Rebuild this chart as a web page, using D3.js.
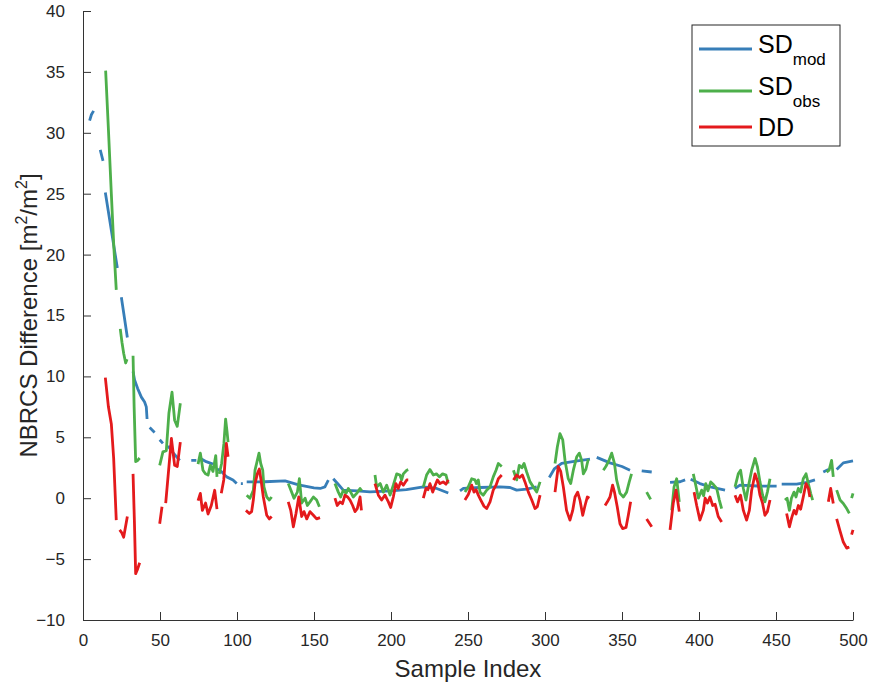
<!DOCTYPE html>
<html lang="en">
<head>
    <meta charset="UTF-8">
    <title>NBRCS Difference</title>
    <script src="https://d3js.org/d3.v7.min.js"></script>
    <style>
        body { margin: 0; background: #fff; }
        svg { display: block; font-family: "Liberation Sans", Arial, Helvetica, sans-serif; }
        .axis path, .axis line { stroke: #333; }
        .axis text { fill: #262626; font-size: 17px; }
    </style>
</head>
<body>
    <svg width="870" height="687"></svg>
    <script>
        // series as [sample index, value] pairs, null = gap (NaN)
        const sdMod = [
            [4.3, 31.0], [5.5, 31.5], [6.9, 31.8], null,
            [11.2, 28.6], [13, 27.7], null,
            [14.5, 25.1], [18.4, 22.0], [22.3, 18.9], null,
            [24.9, 16.5], [26.8, 14.9], [28.8, 13.2], null,
            [32.5, 10.4], [33.5, 9.7], [35.5, 9.0], [37.9, 8.3], [40, 7.9], [41.1, 7.5], [41.6, 6.5], null,
            [43.3, 5.8], [46.5, 5.4], null,
            [49.8, 4.8], [51.9, 4.5], null,
            [55.2, 4.3], [58, 3.8], [62.8, 3.1], null,
            [70.3, 3.1], [73.6, 3.1], null,
            [75.8, 3.3], [80, 3.0], [84.4, 2.8], null,
            [87, 2.4], [89.8, 2.2], [93.3, 1.75], [97.4, 1.5], [99.8, 1.2], null,
            [102.5, 1.2], [103.8, 1.2], null,
            [106.3, 1.34], [118, 1.35], [131.2, 1.42], [140, 1.1], [150, 0.85], [154, 0.8], [157.1, 0.93], [159.3, 1.48], null,
            [162.5, 1.6], [166, 1.1], [169, 0.66], [178, 0.6], [186.4, 0.52], [200, 0.6], [210, 0.7], [221, 0.93], [229.7, 0.8], [237.2, 0.43], null,
            [244.8, 0.6], [247, 0.8], [257.8, 0.88], [270.8, 0.93], [277.3, 0.88], [281.6, 0.66], [288, 0.75], [294.6, 0.93], null,
            [302.8, 1.7], [306, 2.4], [310.8, 2.85], [320, 3.05], [329.2, 3.2], null,
            [333.6, 3.35], [342.2, 2.9], [350, 2.6], [355.2, 2.3], null,
            [362.8, 2.25], [369.3, 2.15], null,
            [381.2, 1.3], [387.7, 1.35], [391, 1.5], null,
            [394.6, 1.56], [400.6, 1.2], [408, 0.9], [416.9, 0.66], null,
            [423.4, 0.8], [426.6, 1.07], [438, 1.0], [450.4, 0.99], null,
            [453.7, 1.15], [463.4, 1.15], [470, 1.3], [475.3, 1.5], null,
            [480.7, 2.15], [484, 2.35], null,
            [489.4, 2.35], [493.7, 2.9], [500, 3.06]
        ];

        const sdObs = [
            [14.7, 35.1], [16.5, 30.3], [18.4, 25.0], [20, 20.7], [21.6, 17.1], null,
            [24.2, 13.9], [25.3, 12.8], [26.4, 11.9], [27.7, 11.1], [28.6, 11.4], null,
            [32.5, 11.7], [33.2, 7.5], [34.2, 3.0], [35.5, 3.1], [36.8, 3.3], null,
            [49.8, 2.7], [51.9, 3.8], [54.1, 3.9], [55.8, 7.0], [57.8, 8.7], [59.5, 6.4], [61.2, 5.9], [63.2, 7.8], null,
            [74.7, 2.8], [76.2, 3.7], [77.9, 2.3], [79.5, 2.0], [81.2, 1.9], [82.7, 2.7], [84.4, 2.2], [86.2, 3.5], [87, 1.75], null,
            [88.5, 2.0], [90, 2.85], [91.5, 4.5], [92.6, 6.5], [93.5, 5.5], [94.2, 4.6], null,
            [106.3, 0.25], [108.4, 0.0], [110.6, 0.65], [111.7, 2.3], [113.2, 3.1], [114.3, 3.7], [115.4, 2.85], [116.7, 2.3], [117.5, 0.93], [119.3, 0.1], [121, -0.15], [122.5, 0.1], null,
            [133.3, 1.2], [135.5, 0.5], [137, 0.0], [139.2, 0.5], [140.5, 1.6], [142, -0.4], [144.2, 0.0], [145.7, -0.6], [147.4, -0.3], [149.6, 0.1], [151.7, -0.15], [153.5, -0.7], null,
            [163.6, 1.2], [165.8, 0.5], [167.3, 0.1], [169, 0.65], [170.8, 0.4], [172.3, 0.8], [173.8, 0.5], [175.5, 0.1], [177.7, 0.4], [179.9, 0.8], [181, 0.6], null,
            [189.6, 1.9], [190.7, 0.93], [193, 1.2], [195, 0.5], [197.2, 1.07], [199.4, 0.25], [201.5, 1.07], [203.7, 2.0], [205.8, 1.9], [206.9, 1.5], [208, 2.0], [210.2, 2.3], [211.2, 2.35], null,
            [221, 0.93], [223.1, 1.9], [225.3, 2.35], [227.5, 1.9], [229.5, 2.0], [231.4, 1.75], [233.5, 2.0], [235.7, 1.9], [237.2, 1.2], null,
            [248, 0.5], [250.2, 0.93], [252.4, 1.6], [254.5, 1.5], [255.5, 1.2], [256.7, 1.5], [257.8, 0.5], [259.9, 0.25], [262.1, 0.66], [264.3, 0.93], [266.4, 1.75], [268.2, 2.3], [269.7, 2.85], [271.9, 2.6], null,
            [279.5, 2.3], [281.6, 1.5], [283.3, 2.7], [285, 2.5], [286.4, 2.85], [288.1, 2.15], [290.3, 1.34], [292.4, 0.93], [294.6, 0.5], [296.8, 1.34], null,
            [306.5, 2.85], [308, 4.2], [309.7, 5.3], [311.5, 4.8], [313, 3.1], [315.1, 1.6], [316.7, 1.2], [318.4, 2.3], [320.6, 3.4], [322.3, 3.7], [323.8, 3.1], [324.9, 2.0], [326.6, 2.4], [328.1, 3.2], null,
            [337.9, 2.3], [339.5, 2.6], [341.2, 3.0], [343.3, 3.7], [345.1, 2.85], [346.5, 1.5], [348.7, 0.4], [350.9, 0.1], [353, 0.5], [354.7, 1.34], [356.2, 2.0], null,
            [366, 0.5], [368.6, -0.1], null,
            [382.3, -1.0], [383.8, 0.93], [385.5, 1.6], [387.2, -0.3], null,
            [396.3, 2.0], [398, 1.0], [399.6, 0.0], [401.7, 0.66], [403, 0.2], [404.4, 1.2], [405.8, 0.6], [407.6, 1.34], [409.5, 1.1], [411.5, 0.8], [413.2, -0.15], [414.7, -0.85], null,
            [423.4, 0.93], [425.5, 2.0], [427, 2.3], [428.8, 0.8], [430.5, -0.15], [432, 0.93], [434.2, 2.3], [436.4, 3.26], [437.9, 2.6], [439.6, 1.34], [441.3, 0.25], [442.8, -0.3], [444.4, 0.5], [446.1, 1.6], null,
            [455.8, -0.15], [457.2, 0.0], [458.7, -1.0], [460, 0.0], [461.7, 0.5], [463, 0.1], [464.5, 0.8], [466, 0.5], [467.7, 1.6], [469.5, 2.0], [471, 1.2], [472.5, 0.4], [473.8, -0.15], null,
            [482.9, 2.15], [484.5, 2.3], [486.1, 3.1], [487.2, 1.75], null,
            [489.4, 0.66], [491.6, -0.15], [493.7, -0.43], [495.9, -0.85], [497.6, -1.25], null,
            [499.1, 0.0], [500, 0.4]
        ];

        const dd = [
            [14.5, 9.9], [16.5, 7.5], [18.4, 6.1], [19.9, 3.3], [21.6, -1.8], null,
            [23.8, -2.6], [25, -2.8], [26.4, -3.2], [28.8, -1.5], null,
            [32.5, 2.0], [33.4, -2.0], [34.2, -6.2], [35.5, -5.8], [36.8, -5.3], null,
            [49.8, -2.1], [51.3, -0.7], null,
            [53.7, -0.4], [55.8, 2.6], [57.4, 4.9], [59.5, 2.7], [61.2, 2.6], [63.2, 4.6], null,
            [74.7, -0.2], [76.2, 0.4], [77.5, -1.0], [79.6, -0.4], [81.2, -1.3], [83.3, -0.6], [85.5, 0.65], [87, -0.9], null,
            [89.8, 0.4], [91.4, 1.5], [93.1, 4.5], [94.2, 3.4], null,
            [105.8, -1.0], [108, -1.25], [109.5, -1.1], [110.6, -0.15], [111.7, 1.2], [113.2, 2.0], [114.5, 2.4], [115.6, 1.5], [117.1, 0.1], [119.3, -1.4], [121, -1.7], [122.5, -1.5], null,
            [133.3, -0.3], [134.9, -1.0], [136.6, -2.35], [138.3, -1.25], [140.1, 0.1], [142, -1.5], [143.5, -1.1], [145.3, -1.7], [147.4, -1.1], [149.6, -1.4], [151.7, -1.7], [153.9, -1.6], null,
            [163.6, 0.0], [165.1, -0.6], [166.9, -0.3], [168.5, -0.45], [170.1, 0.25], [171.8, 0.1], [173.4, -0.15], [175.1, -0.6], [176.6, -1.1], [178.1, -0.85], [179.9, 0.1], [180.8, -1.0], null,
            [189.6, 1.2], [191.8, 0.25], [193.9, -0.15], [196.1, 0.25], [198.3, -0.3], [199.8, -0.76], [201.5, 0.1], [203.2, 1.2], [204.7, 0.8], [206.3, 1.34], [208, 1.07], [210.2, 1.5], [211.2, 1.5], null,
            [221, 0.0], [222.7, 0.8], [224, 0.7], [225.3, 1.2], [227.1, 0.5], [228.5, 1.0], [230.1, 1.5], [231.8, 1.2], [233.9, 1.34], [235.7, 1.15], [237.2, 1.5], null,
            [248, -0.15], [250.2, 0.3], [252.4, 1.07], [253.9, 0.5], [255.3, 0.7], [256.7, 0.25], [258.3, -0.15], [260.4, -0.66], [262.1, -0.85], [264.3, -0.3], [266.4, 0.66], [268.2, 1.07], [269.7, 1.6], [271.9, 1.9], null,
            [279.5, 1.5], [281.6, 1.9], [283.5, 1.7], [285.3, 1.9], [287, 1.34], [289.2, 0.5], [291.4, -0.15], [293.5, -0.85], [295, -0.7], [296.8, 0.25], null,
            [306.5, 0.5], [308.6, 2.6], [310.2, 2.2], [311.9, 0.93], [314, -1.0], [316.2, -1.8], [318, -1.0], [319.5, 0.1], [321.2, 0.5], [322.7, -0.15], [324.5, -1.4], [326, -0.6], [327.5, 0.1], [328.8, 0.0], null,
            [339, -0.6], [340.5, -0.3], [342.2, 0.1], [343.9, 1.07], [345.1, 0.5], [346.9, -0.7], [348.7, -2.1], [350.4, -2.5], [352.6, -2.4], [354.1, -1.4], [355.6, -0.3], null,
            [366, -1.7], [369.3, -2.35], null,
            [381.2, -2.6], [383.3, -0.4], [385.1, 0.66], [387.2, -1.1], null,
            [396.8, 0.5], [398.5, -0.6], [400.6, -1.8], [402.8, -1.0], [404, 0.0], [405.5, -0.4], [407.1, 0.1], [408.9, -0.6], [410.5, -0.5], [412.5, -1.5], [414.7, -1.95], null,
            [423.4, 0.25], [425, -0.3], [427, 0.25], [428.8, -1.0], [430.9, -1.8], [432.7, -1.0], [434.2, 0.66], [436.4, 2.0], [438.1, 1.34], [439.6, 0.25], [441.3, -0.43], [442.8, -1.4], [444.4, -1.1], [446.1, -0.15], null,
            [456.9, -1.25], [458.7, -2.35], [460.2, -1.6], [461.7, -1.0], [463, -1.3], [464.5, -0.6], [466, -0.9], [467.7, 0.1], [469.5, 1.2], [471, 0.8], [472, 0.1], null,
            [484, -0.3], [485.5, 0.8], [487.2, -0.43], null,
            [489.4, -1.7], [491.6, -2.7], [493.7, -3.6], [495.9, -4.1], [497.6, -4.0], null,
            [499.1, -3.0], [500, -2.6]
        ];

        const xTicks = [0, 50, 100, 150, 200, 250, 300, 350, 400, 450, 500];
        const yTicks = [-10, -5, 0, 5, 10, 15, 20, 25, 30, 35, 40];

        const series = [
            { name: "SD", sub: "mod", data: sdMod, color: "#377EB8" },
            { name: "SD", sub: "obs", data: sdObs, color: "#4DAF4A" },
            { name: "DD", sub: "", data: dd, color: "#E41A1C" }
        ];

        // margins follow the original figure's axes box
        const margin = { top: 11, right: 17, bottom: 67, left: 83 };
        const width = 870 - margin.left - margin.right;
        const height = 687 - margin.top - margin.bottom;

        const svg = d3.select("svg")
            .append("g")
            .attr("transform", `translate(${margin.left},${margin.top})`);

        const x = d3.scaleLinear().domain([0, 500]).range([0, width]);
        const y = d3.scaleLinear().domain([-10, 40]).range([height, 0]);

        // matlab style: ticks point inwards
        const xAxis = d3.axisBottom(x).tickValues(xTicks).tickSizeInner(-8).tickSizeOuter(0).tickPadding(14);
        const yAxis = d3.axisLeft(y).tickValues(yTicks).tickSizeInner(-8).tickSizeOuter(0).tickPadding(18);

        svg.append("g")
            .attr("class", "x axis")
            .attr("transform", `translate(0,${height})`)
            .call(xAxis);

        svg.append("g")
            .attr("class", "y axis")
            .call(yAxis);

        svg.selectAll(".axis .domain").attr("stroke-width", 1);

        const line = d3.line()
            .defined(d => d !== null)
            .x(d => x(d[0]))
            .y(d => y(d[1]));

        svg.selectAll(".series")
            .data(series)
            .enter().append("path")
            .attr("class", "series")
            .attr("fill", "none")
            .attr("stroke", d => d.color)
            .attr("stroke-width", 2.8)
            .attr("stroke-linejoin", "round")
            .attr("d", d => line(d.data));

        // axis titles
        svg.append("text")
            .attr("x", width / 2)
            .attr("y", height + 57)
            .attr("text-anchor", "middle")
            .attr("fill", "#262626")
            .style("font-size", "24px")
            .text("Sample Index");

        const yLabel = svg.append("text")
            .attr("transform", `translate(-46,${height / 2}) rotate(-90)`)
            .attr("text-anchor", "middle")
            .attr("fill", "#262626")
            .style("font-size", "24px");
        yLabel.append("tspan").text("NBRCS Difference [m");
        yLabel.append("tspan").attr("dy", -10).style("font-size", "16px").text("2");
        yLabel.append("tspan").attr("dy", 10).text("/m");
        yLabel.append("tspan").attr("dy", -10).style("font-size", "16px").text("2");
        yLabel.append("tspan").attr("dy", 10).text("]");

        // legend
        const legend = svg.append("g")
            .attr("transform", `translate(${692 - margin.left},${25 - margin.top})`);

        legend.append("rect")
            .attr("width", 148)
            .attr("height", 121)
            .attr("fill", "#fff")
            .attr("stroke", "#262626")
            .attr("stroke-width", 1);

        const rowY = [24, 66, 102];

        const rows = legend.selectAll(".legend-row")
            .data(series)
            .enter().append("g")
            .attr("class", "legend-row")
            .attr("transform", (d, i) => `translate(0,${rowY[i]})`);

        rows.append("line")
            .attr("x1", 7)
            .attr("x2", 60)
            .attr("stroke", d => d.color)
            .attr("stroke-width", 3);

        const labels = rows.append("text")
            .attr("x", 66)
            .attr("y", d => d.sub ? 4 : 9)
            .attr("fill", "#000")
            .style("font-size", "25px");
        labels.append("tspan").text(d => d.name);
        labels.append("tspan")
            .attr("dy", 12)
            .style("font-size", "17px")
            .text(d => d.sub);
    </script>
</body>
</html>
